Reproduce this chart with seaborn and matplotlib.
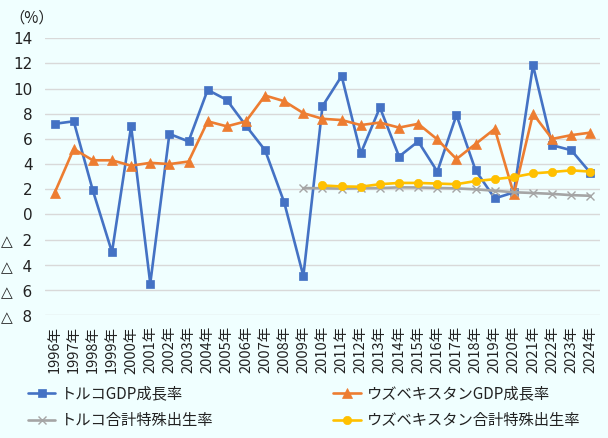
import numpy as np
import pandas as pd
import seaborn as sns
import matplotlib
matplotlib.use("Agg")
import matplotlib.pyplot as plt

years = list(range(1996, 2025))
tr_gdp = [7.2, 7.4, 1.9, -3.0, 7.0, -5.5, 6.4, 5.8, 9.9, 9.1, 7.05, 5.1, 0.95, -4.9,
          8.6, 11.0, 4.85, 8.5, 4.6, 5.8, 3.4, 7.9, 3.5, 1.27, 1.75, 11.85, 5.5, 5.1, 3.3]
uz_gdp = [1.7, 5.2, 4.3, 4.3, 3.87, 4.1, 4.0, 4.2, 7.4, 7.0, 7.4, 9.45, 9.0, 8.05,
          7.6, 7.5, 7.1, 7.3, 6.9, 7.2, 5.96, 4.4, 5.6, 6.8, 1.6, 8.0, 6.0, 6.3, 6.5]
nan = np.nan
tr_tfr = [nan]*13 + [2.09, 2.08, 2.05, 2.08, 2.09, 2.15, 2.14, 2.1, 2.07, 1.99, 1.88, 1.76, 1.7, 1.63, 1.53, 1.48]
uz_tfr = [nan]*14 + [2.3, 2.22, 2.2, 2.4, 2.5, 2.5, 2.45, 2.4, 2.65, 2.8, 2.97, 3.26, 3.37, 3.5, 3.4]
year_labels = [f"{y}年" for y in years]
yticks = [14, 12, 10, 8, 6, 4, 2, 0, -2, -4, -6, -8]
ytick_labels = ["14", "12", "10", "8", "6", "4", "2", "0", "△  2", "△  4", "△  6", "△  8"]

names = ["トルコGDP成長率", "ウズベキスタンGDP成長率", "トルコ合計特殊出生率", "ウズベキスタン合計特殊出生率"]
series = [tr_gdp, uz_gdp, tr_tfr, uz_tfr]
colors = ["#4472C4", "#ED7D31", "#A5A5A5", "#FFC000"]
markers = ["s", "^", "x", "o"]
msizes = [6, 6.5, 6, 6]

sns.set_style("white")
plt.rcParams['font.family'] = ['Noto Sans CJK JP', 'DejaVu Sans']
bg = "#F0FFFF"

fig = plt.figure(figsize=(6.08, 4.38), dpi=100, facecolor=bg)
ax = fig.add_axes([45/608, 1-315/438, 555/608, (315-38.3)/438])
ax.set_facecolor(bg)

for ys in yticks:
    ax.axhline(ys, color="#D9D9D9", lw=1.0, zorder=0)

handles = {}
for name, vals, c, m, ms in zip(names, series, colors, markers, msizes):
    df = pd.DataFrame({"year": years, "v": vals}).dropna()
    sns.lineplot(data=df, x="year", y="v", ax=ax, color=c, marker=m, markersize=ms,
                 lw=1.9, markeredgecolor=c, markeredgewidth=1.0 if m == "x" else 0.5,
                 label=name, legend=False)
    handles[name] = ax.lines[-1]

ax.set_xlim(1995.5, 2024.5)
ax.set_ylim(-8, 14)
ax.set_xticks(years)
ax.set_xticklabels(year_labels, rotation=90, fontsize=10.5, color="#222222")
ax.set_yticks(yticks)
ax.set_yticklabels(ytick_labels, fontsize=11, color="#222222",
                   family=['DejaVu Sans', 'Noto Sans CJK JP'])
ax.tick_params(axis="y", length=0, pad=9)
ax.tick_params(axis="x", length=0, pad=8)
ax.set_xlabel("")
ax.set_ylabel("")
for s in ax.spines.values():
    s.set_visible(False)

fig.text(9/608, 1-18/438, "（%）", fontsize=11, va="center", ha="left", color="#222222")

order = [names[0], names[2], names[1], names[3]]
leg = fig.legend([handles[n] for n in order], order, ncol=2, loc="upper left",
                 bbox_to_anchor=(14/608, 1-372/438), frameon=False, fontsize=11,
                 columnspacing=7.8, handlelength=1.8, handletextpad=0.4, labelspacing=0.6)
for t in leg.get_texts():
    t.set_color("#222222")

fig.savefig("out.png", dpi=100, facecolor=bg)
